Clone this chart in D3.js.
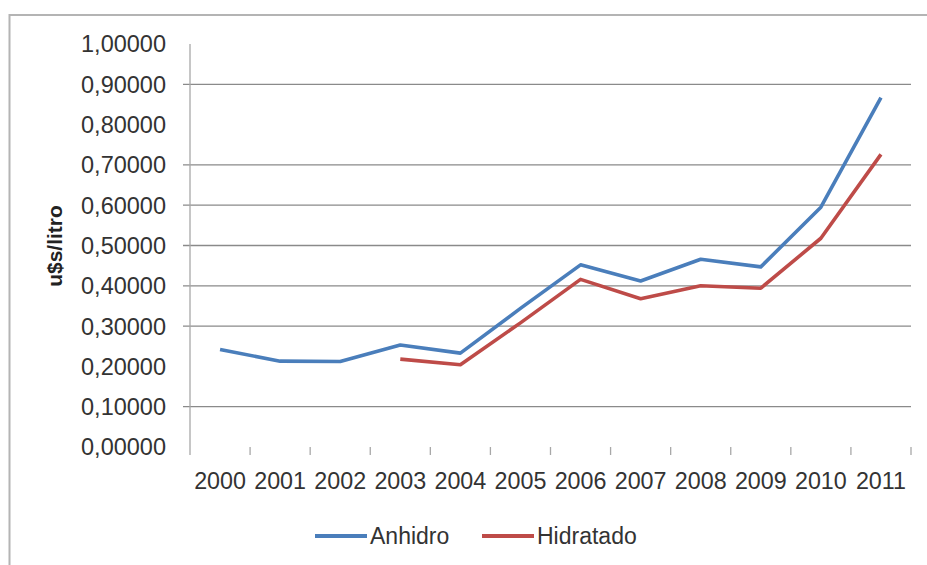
<!DOCTYPE html>
<html>
<head>
<meta charset="utf-8">
<script src="https://cdn.jsdelivr.net/npm/d3@7"></script>
<style>
  body { margin: 0; background: #fff; }
  svg { display: block; font-family: "Liberation Sans", Arial, sans-serif; }
</style>
</head>
<body>
<div id="chart"></div>
<script>
const years = ['2000', '2001', '2002', '2003', '2004', '2005', '2006', '2007', '2008', '2009', '2010', '2011']
const anhidro = [0.242, 0.213, 0.212, 0.253, 0.233, 0.344, 0.452, 0.412, 0.466, 0.447, 0.595, 0.867]
const hidratado = [null, null, null, 0.218, 0.204, 0.308, 0.416, 0.368, 0.400, 0.394, 0.518, 0.726]
const yTicks = [0, 0.1, 0.2, 0.3, 0.4, 0.5, 0.6, 0.7, 0.8, 0.9, 1.0]
// gridlines that actually show up in the picture
const gridValues = [0.1, 0.3, 0.4, 0.5, 0.6, 0.7, 0.9]
const seriesNames = ['Anhidro', 'Hidratado']
const seriesColors = ['#4a7ebb', '#be4b48']

const width = 927
const height = 565

const svg = d3.select('#chart')
  .append('svg')
  .attr('width', width)
  .attr('height', height)

// outer frame (cut off on right and bottom)
svg.append('rect')
  .attr('x', 9.5)
  .attr('y', 15)
  .attr('width', 940)
  .attr('height', 600)
  .attr('fill', '#fff')
  .attr('stroke', '#b4b4b4')
  .attr('stroke-width', 2)

const xPositionScale = d3.scaleBand()
  .domain(years)
  .range([190, 911])

const yPositionScale = d3.scaleLinear()
  .domain([0, 1])
  .range([447, 44])

const fmt = d3.formatLocale({ decimal: ',', thousands: '.', grouping: [3], currency: ['', ''] }).format('.5f')

// gridlines, with the little outward tick
svg.append('g')
  .attr('class', 'grid')
  .selectAll('line')
  .data(gridValues)
  .enter()
  .append('line')
  .attr('x1', 183)
  .attr('x2', xPositionScale.range()[1])
  .attr('y1', d => yPositionScale(d))
  .attr('y2', d => yPositionScale(d))
  .attr('stroke', '#8a8a8a')
  .attr('stroke-width', 1.3)

// y axis line
svg.append('line')
  .attr('x1', 190)
  .attr('x2', 190)
  .attr('y1', yPositionScale(1))
  .attr('y2', yPositionScale(0) + 8)
  .attr('stroke', '#a8a8a8')
  .attr('stroke-width', 1.3)

// y tick labels
svg.append('g')
  .selectAll('text')
  .data(yTicks)
  .enter()
  .append('text')
  .attr('x', 166)
  .attr('y', d => yPositionScale(d))
  .attr('dy', '0.36em')
  .attr('text-anchor', 'end')
  .attr('font-size', 23.5)
  .attr('fill', '#333')
  .text(d => fmt(d))

// x ticks between categories
svg.append('g')
  .selectAll('line')
  .data(years.slice(1).concat(['end']))
  .enter()
  .append('line')
  .attr('x1', (d, i) => xPositionScale(years[i]) + xPositionScale.bandwidth())
  .attr('x2', (d, i) => xPositionScale(years[i]) + xPositionScale.bandwidth())
  .attr('y1', yPositionScale(0))
  .attr('y2', yPositionScale(0) + 8)
  .attr('stroke', '#a8a8a8')
  .attr('stroke-width', 1.3)

// x labels
svg.append('g')
  .selectAll('text')
  .data(years)
  .enter()
  .append('text')
  .attr('x', d => xPositionScale(d) + xPositionScale.bandwidth() / 2)
  .attr('y', 489)
  .attr('text-anchor', 'middle')
  .attr('font-size', 23.3)
  .attr('fill', '#333')
  .text(d => d)

// y axis title
svg.append('text')
  .attr('transform', 'translate(62,246) rotate(-90)')
  .attr('text-anchor', 'middle')
  .attr('font-size', 21)
  .attr('font-weight', 'bold')
  .attr('fill', '#222')
  .text('u$s/litro')

const line = d3.line()
  .defined(d => d.value != null)
  .x(d => xPositionScale(d.year) + xPositionScale.bandwidth() / 2)
  .y(d => yPositionScale(d.value))

const series = [anhidro, hidratado].map((vals, i) => ({
  name: seriesNames[i],
  color: seriesColors[i],
  points: years.map((y, j) => ({ year: y, value: vals[j] }))
}))

svg.append('g')
  .selectAll('path')
  .data(series)
  .enter()
  .append('path')
  .attr('d', d => line(d.points))
  .attr('fill', 'none')
  .attr('stroke', d => d.color)
  .attr('stroke-width', 3.6)
  .attr('stroke-linejoin', 'round')

// legend
const legendX = [315, 482]
const legend = svg.append('g')
  .selectAll('g')
  .data(series)
  .enter()
  .append('g')
  .attr('transform', (d, i) => `translate(${legendX[i]},536)`)

legend.append('line')
  .attr('x1', 0)
  .attr('x2', 52)
  .attr('stroke', d => d.color)
  .attr('stroke-width', 4)

legend.append('text')
  .attr('x', 55)
  .attr('y', 7.5)
  .attr('font-size', 23)
  .attr('fill', '#333')
  .text(d => d.name)
</script>
</body>
</html>
